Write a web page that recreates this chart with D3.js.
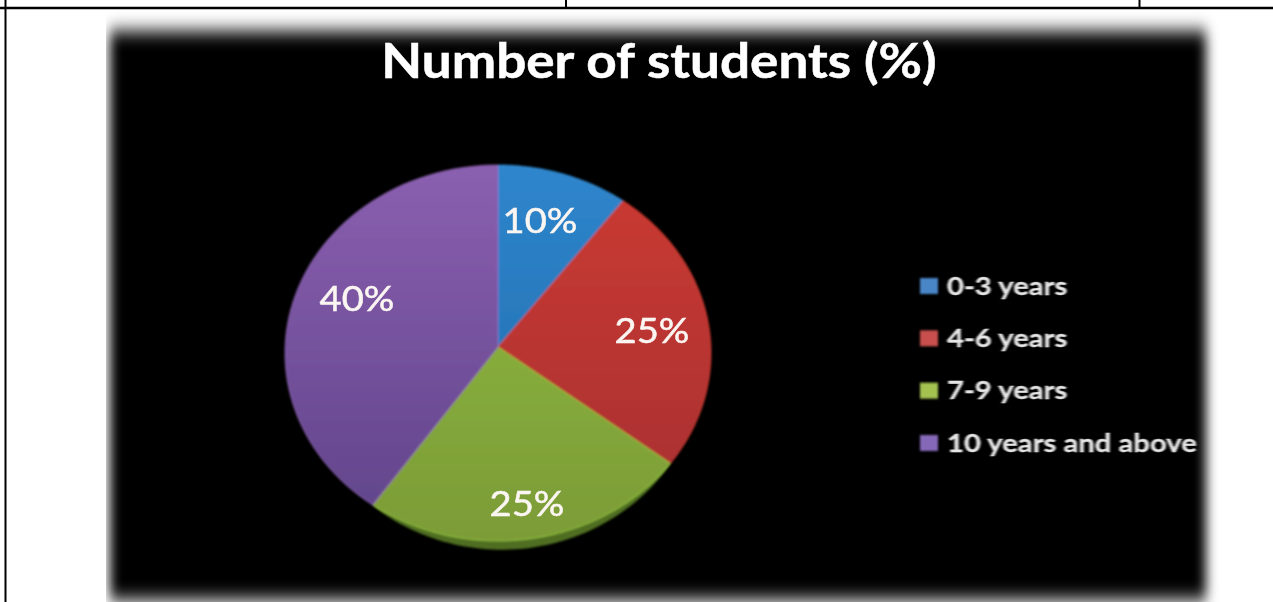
<!DOCTYPE html>
<html>
<head>
<meta charset="utf-8">
<title>Number of students (%)</title>
<script src="https://cdnjs.cloudflare.com/ajax/libs/d3/7.8.5/d3.min.js"></script>
<style>
  html, body { margin: 0; padding: 0; background: #fff; }
  svg { display: block; }
  text { font-family: Lato, "Open Sans", sans-serif; }
</style>
</head>
<body>
<svg id="chart" width="1273" height="602"></svg>
<script>
// Chart content
const chartTitle = "Number of students (%)";
const categories = ["0-3 years", "4-6 years", "7-9 years", "10 years and above"];
const shares = [10, 25, 25, 40];

// Colour ramps, top to bottom of the pie
const rampTop = ["#2f86cc", "#cc3a30", "#90bc3f", "#8a5fb0"];
const rampBottom = ["#1f68a8", "#a53030", "#7c9c38", "#5f4489"];
const legendColors = ["#4a86c8", "#c8504e", "#a3c24f", "#8568b8"];

// Layout
const pieCentre = { x: 498, y: 353, rx: 213, ry: 188 };
const apex = { x: 498, y: 347 };
const bevelDepth = 9;
const labelSpots = [[540, 220], [652, 330], [527, 503], [357, 298]];
const stretch = 1.13; // the whole figure is drawn slightly wider than tall

const svg = d3.select("#chart");
const defs = svg.append("defs");

const addBlur = (id, sd) => defs.append("filter")
  .attr("id", id)
  .attr("x", "-10%").attr("y", "-10%").attr("width", "120%").attr("height", "120%")
  .append("feGaussianBlur").attr("stdDeviation", sd);
addBlur("edge", "6 9");
addBlur("soft", 0.8);
addBlur("softer", 0.7);
addBlur("bevelBlur", 1.3);

defs.append("clipPath").attr("id", "photo")
  .append("rect").attr("x", 106).attr("y", 10).attr("width", 1115).attr("height", 592);

// Vertical gradient for each slice, spanning the full pie height
const yScale = d3.scaleLinear().domain([0, 1]).range([pieCentre.y - pieCentre.ry, pieCentre.y + pieCentre.ry]);
categories.forEach((c, i) => {
  const g = defs.append("linearGradient")
    .attr("id", "slice" + i)
    .attr("gradientUnits", "userSpaceOnUse")
    .attr("x1", 0).attr("x2", 0).attr("y1", yScale(0)).attr("y2", yScale(1));
  g.append("stop").attr("offset", 0).attr("stop-color", rampTop[i]);
  g.append("stop").attr("offset", 1).attr("stop-color", rampBottom[i]);
});

// Table rules surrounding the embedded chart
const rules = svg.append("g").attr("stroke", "#000");
rules.append("line").attr("x1", 0).attr("x2", 1273).attr("y1", 8).attr("y2", 8).attr("stroke-width", 2.5);
rules.append("line").attr("x1", 5.5).attr("x2", 5.5).attr("y1", 0).attr("y2", 602).attr("stroke-width", 2);
rules.append("line").attr("x1", 566).attr("x2", 566).attr("y1", 0).attr("y2", 8).attr("stroke-width", 2);
rules.append("line").attr("x1", 1139.5).attr("x2", 1139.5).attr("y1", 0).attr("y2", 8).attr("stroke-width", 2);

// Black panel with a feathered edge
const panel = svg.append("g").attr("clip-path", "url(#photo)");
panel.append("rect")
  .attr("x", 110).attr("y", 31).attr("width", 1096).attr("height", 569)
  .attr("fill", "#000").attr("filter", "url(#edge)");

panel.append("text")
  .attr("transform", `translate(659,78) scale(${stretch},1)`)
  .attr("text-anchor", "middle")
  .attr("font-size", 47).attr("font-weight", 700)
  .attr("fill", "#fff")
  .attr("stroke", "#fff").attr("stroke-width", 0.5)
  .attr("filter", "url(#softer)")
  .text(chartTitle);

// Slices: d3.pie supplies the angles, the outline follows a squashed circle
const pie = d3.pie().sort(null).value(d => d);
const arcs = pie(shares);
const onRim = (a, shift = 0) => [
  pieCentre.x + pieCentre.rx * Math.sin(a),
  pieCentre.y + shift - pieCentre.ry * Math.cos(a)
];
const rimPoints = (d, depth = 0) => d3.range(0, 61).map(k => onRim(
  d.startAngle + (d.endAngle - d.startAngle) * k / 60,
  depth * Math.pow(Math.sin(Math.PI * k / 60), 0.7)
));
const line = d3.line();

// Darker rim below the front of the pie, tapering to nothing at both ends
panel.append("path")
  .attr("d", line(rimPoints(arcs[2], bevelDepth)) + "Z")
  .attr("fill", "#4f6e20")
  .attr("filter", "url(#bevelBlur)");

const pieGroup = panel.append("g").attr("filter", "url(#soft)");
pieGroup.selectAll("path.slice")
  .data(arcs)
  .join("path")
  .attr("class", "slice")
  .attr("d", d => line([[apex.x, apex.y], ...rimPoints(d)]) + "Z")
  .attr("fill", (d, i) => `url(#slice${i})`)
  .attr("stroke", (d, i) => d3.color(rampTop[i]).brighter(0.5))
  .attr("stroke-opacity", 0.55)
  .attr("stroke-width", 1.2)
  .attr("stroke-linejoin", "round");

// Percentage labels
panel.append("g").selectAll("text")
  .data(shares)
  .join("text")
  .attr("transform", (d, i) => `translate(${labelSpots[i][0]},${labelSpots[i][1]}) scale(1.09,1)`)
  .attr("dy", "0.36em")
  .attr("text-anchor", "middle")
  .attr("font-size", 35)
  .attr("fill", "#fbf6f2")
  .attr("stroke", "#fbf6f2")
  .attr("stroke-width", 0.5)
  .attr("filter", "url(#softer)")
  .text(d => d + "%");

// Legend
const legendY = d3.scalePoint().domain(categories).range([286, 443]);
const rows = panel.append("g").selectAll("g").data(categories).join("g")
  .attr("transform", d => `translate(0,${legendY(d)})`);
rows.append("rect")
  .attr("x", 920).attr("y", -8).attr("width", 18).attr("height", 16)
  .attr("fill", (d, i) => legendColors[i])
  .attr("filter", "url(#soft)");
rows.append("text")
  .attr("transform", "translate(947,0) scale(1.17,1)")
  .attr("dy", "0.35em")
  .attr("font-size", 25).attr("font-weight", 700)
  .attr("fill", "#e6e6e6")
  .attr("stroke", "#e6e6e6").attr("stroke-width", 0.3)
  .attr("filter", "url(#softer)")
  .text(d => d);
</script>
</body>
</html>
